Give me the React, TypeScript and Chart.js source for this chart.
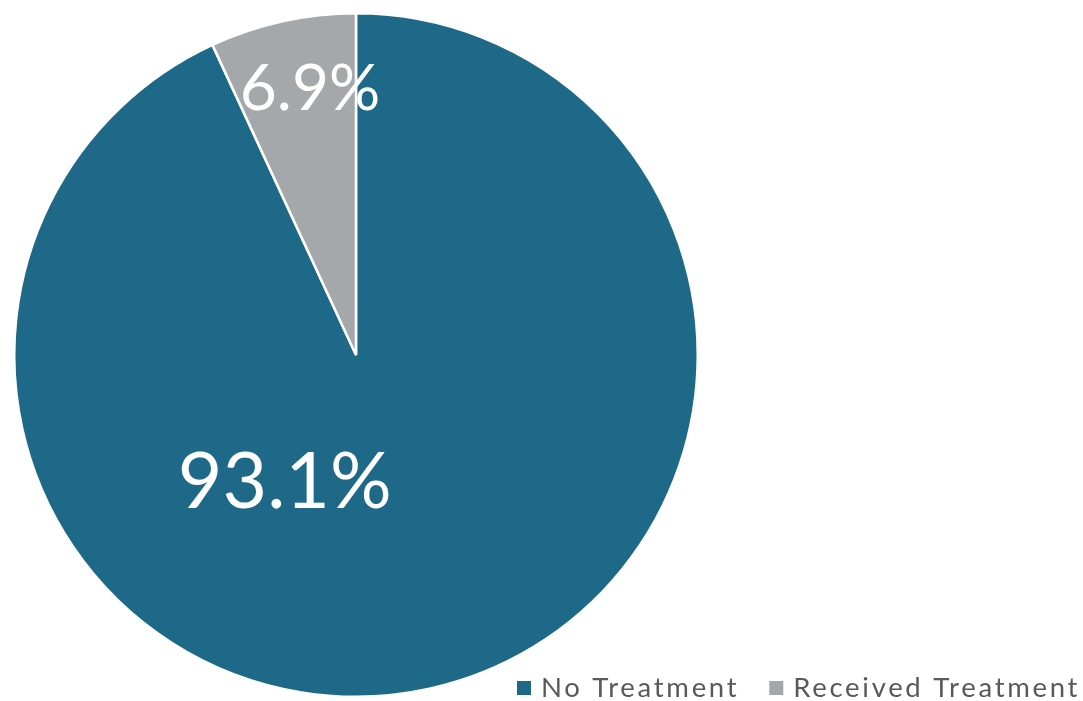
import React, { useEffect, useRef } from "react";
import { Chart, registerables } from "chart.js";

Chart.register(...registerables);

const categories = ["No Treatment", "Received Treatment"];
const values = [93.1, 6.9];
const valueLabels = ["93.1%", "6.9%"];
const colors = ["#1D6987", "#A5A8AB"];
// label placement: angle (deg clockwise from top), fraction of radius, font size
const labelAngles = [209, 350.2];
const labelRadii = [0.43, 0.79];
const labelSizes = [77, 64];

const FONT = "Lato, 'Open Sans', sans-serif";

const labelPlugin = {
  id: "pieLabels",
  afterDatasetsDraw(chart: any) {
    const ctx = chart.ctx;
    const meta = chart.getDatasetMeta(0);
    meta.data.forEach((arc: any, i: number) => {
      const a = (labelAngles[i] * Math.PI) / 180;
      const r = arc.outerRadius * labelRadii[i];
      const x = arc.x + r * Math.sin(a);
      const y = arc.y - r * Math.cos(a);
      ctx.save();
      ctx.fillStyle = "#ffffff";
      ctx.font = `${labelSizes[i]}px ${FONT}`;
      ctx.textAlign = "center";
      ctx.textBaseline = "middle";
      ctx.fillText(valueLabels[i], x, y);
      ctx.restore();
    });
  },
};

const legendPlugin = {
  id: "customLegend",
  afterDraw(chart: any) {
    const ctx = chart.ctx;
    ctx.save();
    ctx.font = `27.5px ${FONT}`;
    (ctx as any).letterSpacing = "2.7px";
    ctx.textBaseline = "middle";
    const y = 688;
    let x = 517;
    categories.forEach((c, i) => {
      ctx.fillStyle = colors[i];
      ctx.fillRect(x, y - 7, 14, 14);
      ctx.fillStyle = "#595959";
      ctx.textAlign = "left";
      ctx.fillText(c, x + 24, y);
      x += 24 + ctx.measureText(c).width + 30;
    });
    ctx.restore();
  },
};

export default function App() {
  const ref = useRef<HTMLCanvasElement>(null);
  useEffect(() => {
    document.body.style.margin = "0";
    const chart = new Chart(ref.current!, {
      type: "pie",
      data: {
        labels: categories,
        datasets: [
          {
            data: values,
            backgroundColor: colors,
            borderColor: "#ffffff",
            borderWidth: 2.5,
          },
        ],
      },
      options: {
        animation: false,
        responsive: false,
        layout: { padding: { left: 13, top: 11, right: 384, bottom: 2 } },
        plugins: { legend: { display: false }, tooltip: { enabled: false } },
      },
      plugins: [labelPlugin, legendPlugin],
    });
    return () => chart.destroy();
  }, []);
  return (
    <div style={{ width: 1083, height: 701 }}>
      <canvas ref={ref} width={1083} height={701} style={{ display: "block" }} />
    </div>
  );
}
